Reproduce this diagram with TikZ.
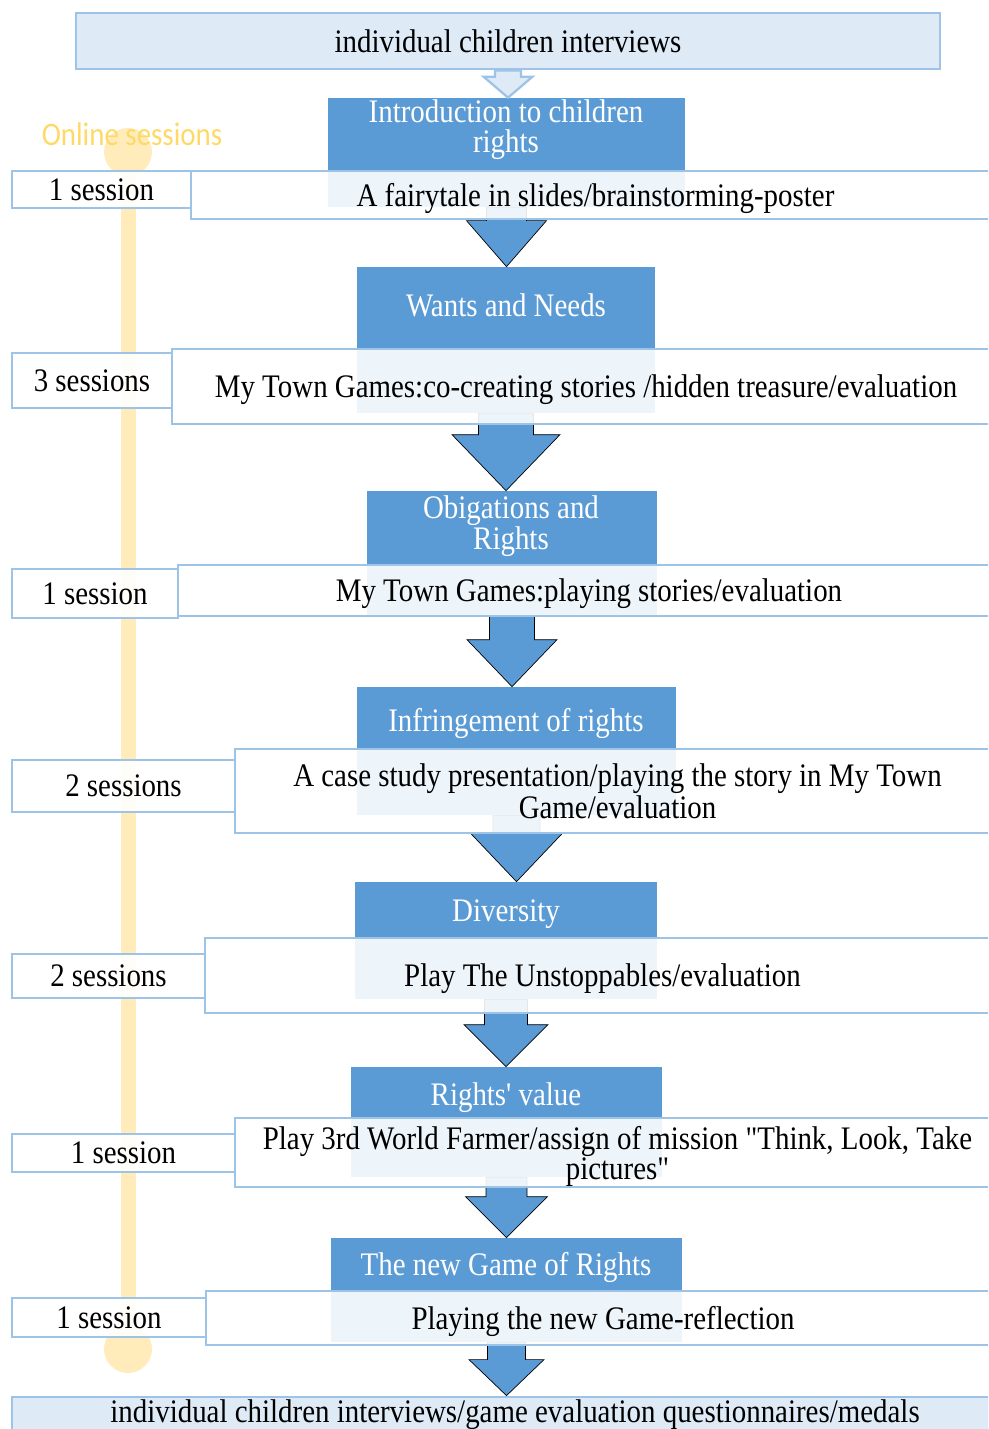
\documentclass[tikz,border=0pt]{standalone}
\usepackage{fontspec}
\setmainfont{Liberation Serif}[Ligatures=TeXOff, FakeStretch=0.88]
\newfontfamily\calibrifont{Carlito}[FakeStretch=0.88]
\usetikzlibrary{calc,fit}
\definecolor{accentblue}{RGB}{91,155,213}
\definecolor{paleblue}{RGB}{157,195,230}
\definecolor{iceblue}{RGB}{222,235,247}
\definecolor{sunny}{RGB}{255,217,102}
\definecolor{sunbar}{RGB}{255,236,186}

\tikzset{
  every node/.style={font=\fontsize{18.7}{17}\selectfont},
  titlebox/.style={fill=accentblue, inner sep=0pt},
  titletext/.style={text=white, align=center, inner sep=0pt},
  notebox/.style={draw=paleblue, line width=1.6pt, fill=white, fill opacity=0.9, inner sep=0pt},
  countbox/.style={notebox},
  endbox/.style={draw=paleblue, line width=1.6pt, fill=iceblue, inner sep=0pt},
  boxtext/.style={align=center, inner sep=0pt},
  notetext/.style={boxtext, yshift=-0.07cm},
  flowfill/.style={fill=accentblue},
  outlinefill/.style={fill=iceblue, draw=paleblue, line width=1.3pt},
}

% block arrow: [style]{from}{to}{shaft half}{head half}{head length}
\newcommand{\flowarrow}[6][flowfill]{%
  \path (#2.south) coordinate (fa-a) (#2.south |- #3.north) coordinate (fa-b);
  \filldraw[#1] ($(fa-a)+(-#4,0)$) -- ($(fa-a)+(#4,0)$) -- ($(fa-b)+(#4,-#6)$)
     -- ($(fa-b)+(#5,-#6)$) -- (fa-b) -- ($(fa-b)+(-#5,-#6)$) -- ($(fa-b)+(-#4,-#6)$) -- cycle;}

\begin{document}
\begin{tikzpicture}[x=0.02cm, y=-0.02cm]
\useasboundingbox (0,0) rectangle (988,1429);
\clip (0,0) rectangle (988,1429);

% online timeline
\fill[sunbar] (121,152) rectangle (136,1349);
\fill[sunbar] (128,152) ellipse (24 and 24);
\fill[sunbar] (128,1349) ellipse (24 and 24);
\node[text=sunny, font=\calibrifont\fontsize{18.7}{17}\selectfont] (online) at (132,134) {Online sessions};

% start and end
\node[endbox, fit={(76,13) (940,69)}]      (start) {};
\node[endbox, fit={(12,1397) (1018,1430)}] (final) {};
\node[boxtext] at (start.center) {individual children interviews};
\node[boxtext, yshift=-0.03cm] at (final.center) {individual children interviews/game evaluation questionnaires/medals};

% topics
\node[titlebox, fit={(328,98) (685,207)}]    (t1) {};
\node[titlebox, fit={(357,267) (655,413)}]   (t2) {};
\node[titlebox, fit={(367,491) (657,616)}]   (t3) {};
\node[titlebox, fit={(357,687) (676,815)}]   (t4) {};
\node[titlebox, fit={(355,882) (657,999)}]   (t5) {};
\node[titlebox, fit={(351,1067) (662,1177)}] (t6) {};
\node[titlebox, fit={(331,1238) (682,1342)}] (t7) {};

\node[titletext] (t1l) at (506,130)  {Introduction to children\\rights};
\node[titletext] (t2l) at (506,305)  {Wants and Needs};
\node[titletext] (t3l) at (511,526)  {Obigations and\\Rights};
\node[titletext] (t4l) at (516,723)  {Infringement of rights};
\node[titletext] (t5l) at (506,914)  {Diversity};
\node[titletext] (t6l) at (506,1098) {Rights' value};
\node[titletext] (t7l) at (506,1267) {The new Game of Rights};

% arrows
\flowarrow[outlinefill]{start}{t1}{13}{24.5}{21}
\flowarrow{t1}{t2}{20}{40}{46}
\flowarrow{t2}{t3}{27.5}{54}{56}
\flowarrow{t3}{t4}{22.5}{45}{47}
\flowarrow{t4}{t5}{23.5}{46.5}{49}
\flowarrow{t5}{t6}{21.5}{42}{42}
\flowarrow{t6}{t7}{20.5}{41}{41}
\flowarrow{t7}{final}{19}{37.5}{36}

% activities
\node[notebox, fit={(191,171) (1000,219)}]   (w1) {};
\node[notebox, fit={(172,349) (1000,424)}]   (w2) {};
\node[notebox, fit={(178,565) (1000,616)}]   (w3) {};
\node[notebox, fit={(235,749) (1000,833)}]   (w4) {};
\node[notebox, fit={(205,938) (1000,1013)}]  (w5) {};
\node[notebox, fit={(235,1118) (1000,1187)}] (w6) {};
\node[notebox, fit={(206,1291) (1000,1345)}] (w7) {};
\node[notetext] at (w1.center) {A fairytale in slides/brainstorming-poster};
\node[notetext] at (w2.center) {My Town Games:co-creating stories /hidden treasure/evaluation};
\node[notetext] at (w3.center) {My Town Games:playing stories/evaluation};
\node[boxtext]  at (w4.center) {A case study presentation/playing the story in My Town\\Game/evaluation};
\node[notetext] at (w5.center) {Play The Unstoppables/evaluation};
\node[notetext] at (w6.center) {Play 3rd World Farmer/assign of mission "Think, Look, Take\\pictures"};
\node[notetext] at (w7.center) {Playing the new Game-reflection};

% session counts
\node[countbox, fit={(12,171) (191,208)}]   (s1) {};
\node[countbox, fit={(12,353) (172,408)}]   (s2) {};
\node[countbox, fit={(12,569) (178,618)}]   (s3) {};
\node[countbox, fit={(12,760) (235,812)}]   (s4) {};
\node[countbox, fit={(12,954) (205,998)}]   (s5) {};
\node[countbox, fit={(12,1134) (235,1172)}] (s6) {};
\node[countbox, fit={(12,1298) (206,1337)}] (s7) {};
\foreach \s/\n in {s1/1 session, s2/3 sessions, s3/1 session, s4/2 sessions,
                   s5/2 sessions, s6/1 session, s7/1 session}
  \node[boxtext] at (\s.center) {\n};
\end{tikzpicture}
\end{document}
